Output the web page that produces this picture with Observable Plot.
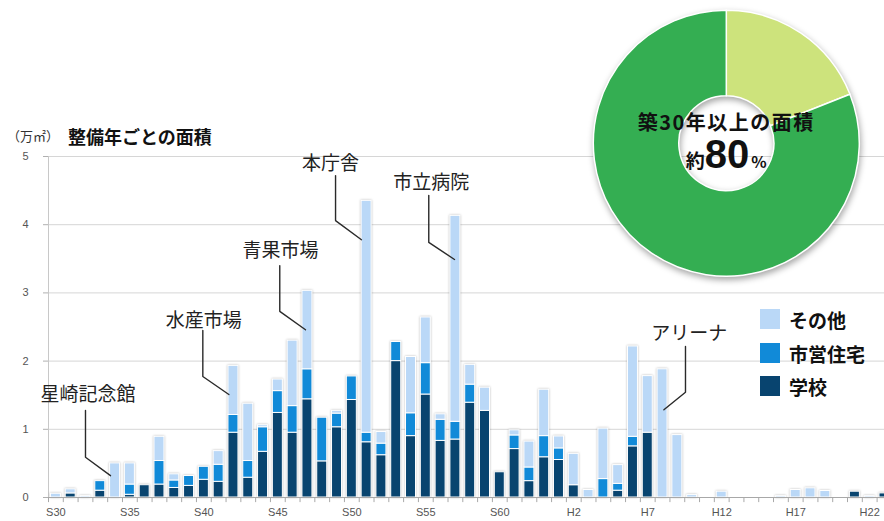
<!DOCTYPE html>
<html>
<head>
<meta charset="utf-8">
<script src="https://cdn.jsdelivr.net/npm/d3@7"></script>
<script src="https://cdn.jsdelivr.net/npm/@observablehq/plot@0.6"></script>
<style>
html, body { margin: 0; padding: 0; background: #fff; }
#chart { position: relative; width: 884px; height: 521px; overflow: hidden; }
</style>
</head>
<body>
<div id="chart"></div>
<script>
// ---- categories ----
const years = [1955,1956,1957,1958,1959,1960,1961,1962,1963,1964,
               1965,1966,1967,1968,1969,1970,1971,1972,1973,1974,
               1975,1976,1977,1978,1979,1980,1981,1982,1983,1984,
               1985,1986,1987,1988,1989,1990,1991,1992,1993,1994,
               1995,1996,1997,1998,1999,2000,2001,2002,2003,2004,
               2005,2006,2007,2008,2009,2010,2011];

// ---- series values (万㎡) ----
const school  = [0,0.06,0,0.10,0,0.04,0.18,0.19,0.14,0.17,
                 0.26,0.23,0.95,0.29,0.67,1.24,0.95,1.44,0.53,1.03,
                 1.43,0.81,0.62,2.00,0.90,1.51,0.83,0.85,1.39,1.27,
                 0.37,0.71,0.24,0.59,0.55,0.18,0,0,0.10,0.75,
                 0.95,0,0,0,0,0,0,0,0,0,
                 0,0,0,0,0.085,0,0.06];
const housing = [0,0,0,0.14,0,0.15,0,0.345,0.11,0.145,
                 0.19,0.25,0.26,0.245,0.36,0.32,0.39,0.44,0.64,0.20,
                 0.345,0.14,0.17,0.28,0.335,0.46,0.31,0.26,0.265,0,
                 0,0.20,0.20,0.31,0.17,0,0,0.27,0.10,0.14,
                 0,0,0,0,0,0,0,0,0,0,
                 0,0,0,0,0,0,0];
const other   = [0.055,0.06,0.02,0,0.50,0.31,0,0.355,0.09,0,
                 0,0.20,0.72,0.84,0.03,0.17,0.96,1.15,0,0.04,
                 0,3.40,0.17,0,0.825,0.67,0.08,3.02,0.29,0.34,
                 0,0.075,0.38,0.68,0.175,0.46,0.11,0.74,0.275,1.325,
                 0.83,1.88,0.915,0.035,0,0.085,0,0,0,0.02,
                 0.11,0.135,0.095,0,0,0.02,0];

const seriesNames  = ["学校", "市営住宅", "その他"];
const seriesColors = ["#08446f", "#118ad8", "#bad8f7"];
const legendOrder  = ["その他", "市営住宅", "学校"];

// ---- axis ticks ----
const tickYears  = [1955,1960,1965,1970,1975,1980,1985,1990,1995,2000,2005,2010];
const tickLabels = ["S30","S35","S40","S45","S50","S55","S60","H2","H7","H12","H17","H22"];
const yTicks = [0,1,2,3,4,5];
const gridValues = [1,2,3,4,5];

// ---- annotations (data units) ----
const annoLabels  = ["星崎記念館","水産市場","青果市場","本庁舎","市立病院","アリーナ"];
const annoTextX   = [1957.17, 1965.00, 1970.18, 1973.56, 1980.37, 1997.80];
const annoTextY   = [1.50, 2.595, 3.62, 4.89, 4.62, 2.40];
const annoVX      = [1957.00, 1964.93, 1970.13, 1973.90, 1980.20, 1997.55];
const annoTopY    = [1.276, 2.449, 3.40, 4.72, 4.43, 2.214];
const annoElbowY  = [0.59, 1.774, 2.73, 4.06, 3.74, 1.544];
const annoEndX    = [1958.69, 1966.69, 1971.87, 1975.65, 1981.94, 1996.09];
const annoEndY    = [0.32, 1.51, 2.46, 3.78, 3.49, 1.286];

// ---- donut ----
const donutLabels = ["築30年未満", "築30年以上"];
const donutValues = [19, 81];
const donutColors = ["#cde37c", "#34ae52"];

// ---- build tables ----
const rows = [];
years.forEach((y, i) => {
  [school[i], housing[i], other[i]].forEach((v, k) => {
    if (v > 0) rows.push({year: y, kind: seriesNames[k], value: v});
  });
});
const boundaries = years.map(y => y - 0.5);
const annoRows = annoLabels.map((l, i) => ({label: l, x: annoTextX[i], y: annoTextY[i]}));
const annoPts = annoLabels.flatMap((l, i) => [
  {label: l, x: annoVX[i], y: annoTopY[i]},
  {label: l, x: annoVX[i], y: annoElbowY[i]},
  {label: l, x: annoEndX[i], y: annoEndY[i]}
]);
const tickLenX = 5 / 14.8;

const jp = "'Noto Sans CJK JP', 'Noto Sans', sans-serif";
const latin = "'Liberation Sans', Arial, sans-serif";

const svg = Plot.plot({
  width: 884,
  height: 521,
  marginLeft: 48,
  marginRight: 0,
  marginTop: 156,
  marginBottom: 24,
  x: {type: "linear", domain: [1954.5, 2011.0], axis: null},
  y: {domain: [0, 5], axis: null},
  color: {domain: seriesNames, range: seriesColors},
  style: {fontFamily: jp, background: "white", overflow: "visible"},
  marks: [
    Plot.ruleY(gridValues, {stroke: "#d6d6d6"}),
    Plot.ruleX([1954.5], {stroke: "#c8c8c8"}),
    Plot.ruleY(yTicks, {x1: 1954.5 - tickLenX, x2: 1954.5, stroke: "#b0b0b0"}),
    Plot.rectY(rows, {
      x1: d => d.year - 0.5,
      x2: d => d.year + 0.5,
      y: "value",
      fill: "kind",
      stroke: "white",
      strokeWidth: 1,
      insetLeft: 2.4,
      insetRight: 2.4
    }),
    Plot.ruleY([0], {stroke: "#a8a8a8"}),
    Plot.ruleX(boundaries, {y1: 0, y2: -0.075, stroke: "#a8a8a8"}),
    Plot.text(yTicks, {x: 1954.5, y: d => d, text: d => String(d), dx: -20, textAnchor: "end",
      fill: "#555", fontSize: 11, fontFamily: latin}),
    Plot.text(tickYears, {x: d => d, y: 0, text: (d, i) => tickLabels[i], dy: 15,
      fill: "#555", fontSize: 11, fontFamily: latin}),
    Plot.line(annoPts, {x: "x", y: "y", z: "label", stroke: "#2a2a2a", strokeWidth: 1.4}),
    Plot.text(annoRows, {x: "x", y: "y", text: "label", fontSize: 19, fill: "#222", fontFamily: jp})
  ]
});

document.getElementById("chart").appendChild(svg);

const root = d3.select(svg);
root.selectAll('g[aria-label="rect"]').style("filter", "drop-shadow(0.6px 0.6px 1px rgba(0,0,0,0.28))");

// title and unit
root.append("text").attr("x", 7).attr("y", 135).attr("dominant-baseline", "central")
  .attr("text-anchor", "start")
  .attr("font-family", jp).attr("font-size", 13).attr("fill", "#333").text("（万㎡）");
root.append("text").attr("x", 68).attr("y", 136).attr("dominant-baseline", "central")
  .attr("text-anchor", "start")
  .attr("font-family", jp).attr("font-size", 18).attr("font-weight", "bold").attr("fill", "#111")
  .text("整備年ごとの面積");

// legend
const legendTop = [309, 343, 376];
legendOrder.forEach((name, i) => {
  const k = seriesNames.indexOf(name);
  root.append("rect").attr("x", 760).attr("y", legendTop[i]).attr("width", 20).attr("height", 20)
    .attr("fill", seriesColors[k]);
  root.append("text").attr("x", 789).attr("y", legendTop[i] + 10).attr("dominant-baseline", "central")
    .attr("text-anchor", "start")
    .attr("font-family", jp).attr("font-size", 19).attr("font-weight", "bold").attr("fill", "#111")
    .text(name);
});

// donut
const cx = 726.3, cy = 143.2;
const pie = d3.pie().sort(null).value(d => d)(donutValues);
const arc = d3.arc().innerRadius(47.5).outerRadius(133);
const g = root.append("g").attr("transform", `translate(${cx},${cy})`)
  .style("filter", "drop-shadow(1.5px 3px 3px rgba(0,0,0,0.35))");
g.selectAll("path").data(pie).join("path")
  .attr("d", arc)
  .attr("fill", (d, i) => donutColors[i])
  .attr("stroke", "white").attr("stroke-width", 1.5)
  .append("title").text((d, i) => donutLabels[i]);

root.append("text").attr("x", cx).attr("y", 121).attr("text-anchor", "middle")
  .attr("dominant-baseline", "central")
  .attr("font-family", jp).attr("font-size", 20).attr("font-weight", "bold")
  .attr("letter-spacing", "1.5px").attr("fill", "#111")
  .text("築30年以上の面積");
const t2 = root.append("text").attr("x", cx).attr("y", 168).attr("text-anchor", "middle")
  .attr("font-weight", "bold").attr("fill", "#111");
t2.append("tspan").attr("font-family", jp).attr("font-size", 19).text("約");
t2.append("tspan").attr("font-family", latin).attr("font-size", 40).text("80");
t2.append("tspan").attr("font-family", jp).attr("font-size", 16).attr("dx", 2).text("%");
</script>
</body>
</html>
